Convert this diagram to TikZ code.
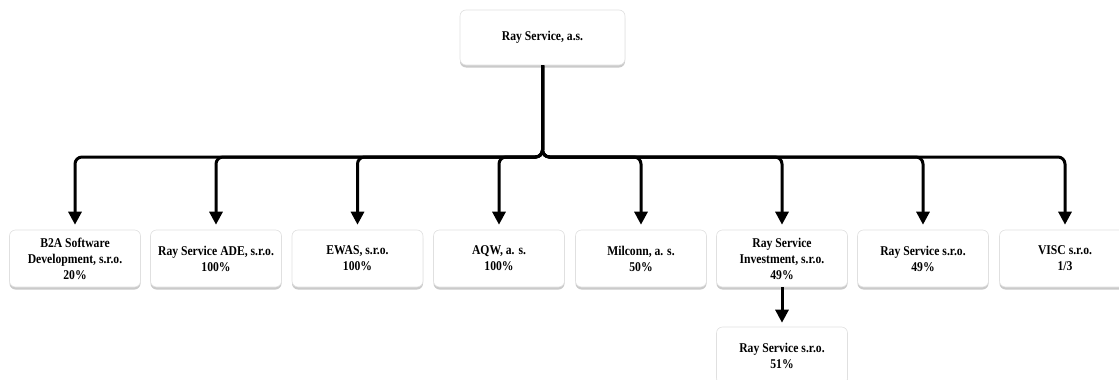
\documentclass[tikz,border=0pt]{standalone}
\usepackage{fontspec}
\setmainfont{Liberation Serif}[FakeStretch=0.87]
\usetikzlibrary{arrows.meta,shadows}

\tikzset{
  unit/.style={draw=black!12, line width=0.6pt, fill=white, rounded corners=6pt,
    minimum width=131pt, minimum height=57pt, align=center, inner sep=2pt,
    font=\fontsize{13.4}{16}\selectfont\bfseries,
    drop shadow={shadow xshift=0pt, shadow yshift=-2.5pt, opacity=0.35, fill=black!60}},
  link/.style={line width=3pt, rounded corners=7pt,
    -{Triangle[width=13pt,length=13pt]}, shorten >=5pt},
}

\begin{document}
\begin{tikzpicture}[x=1pt,y=-1pt]
  \useasboundingbox (0,0) rectangle (1119,380);

  % Text Node
  \node[unit, minimum width=165pt, minimum height=55pt] (ray) at (542.5,37.5) {Ray Service, a.s.};
  % Text Node
  \node[unit] (b2a) at (75,258.5) {B2A Software\\Development, s.r.o.\\20\%};
  % Text Node
  \node[unit] (ade) at (216,258.5) {Ray Service ADE, s.r.o.\\100\%};
  % Text Node
  \node[unit] (ewas) at (357.5,258.5) {EWAS, s.r.o.\\100\%};
  % Text Node
  \node[unit] (aqw) at (499,258.5) {AQW, a. s.\\100\%};
  % Text Node
  \node[unit] (milconn) at (641,258.5) {Milconn, a. s.\\50\%};
  % Text Node
  \node[unit] (rsi) at (782,258.5) {Ray Service\\Investment, s.r.o.\\49\%};
  % Text Node
  \node[unit] (rsa) at (923,258.5) {Ray Service s.r.o.\\49\%};
  % Text Node
  \node[unit] (visc) at (1065,258.5) {VISC s.r.o.\\1/3};
  % Text Node
  \node[unit] (rsb) at (782,355.5) {Ray Service s.r.o.\\51\%};

  \coordinate (bus) at (542.5,157);

  %Connectors from the parent
  \draw[link] (ray.south) |- (bus -| b2a.north) -- (b2a.north);
  \draw[link] (ray.south) |- (bus -| ade.north) -- (ade.north);
  \draw[link] (ray.south) |- (bus -| ewas.north) -- (ewas.north);
  \draw[link] (ray.south) |- (bus -| aqw.north) -- (aqw.north);
  \draw[link] (ray.south) |- (bus -| milconn.north) -- (milconn.north);
  \draw[link] (ray.south) |- (bus -| rsi.north) -- (rsi.north);
  \draw[link] (ray.south) |- (bus -| rsa.north) -- (rsa.north);
  \draw[link] (ray.south) |- (bus -| visc.north) -- (visc.north);
  %Connector to the second level
  \draw[link, shorten >=4pt] (rsi.south) -- (rsb.north);
\end{tikzpicture}
\end{document}
